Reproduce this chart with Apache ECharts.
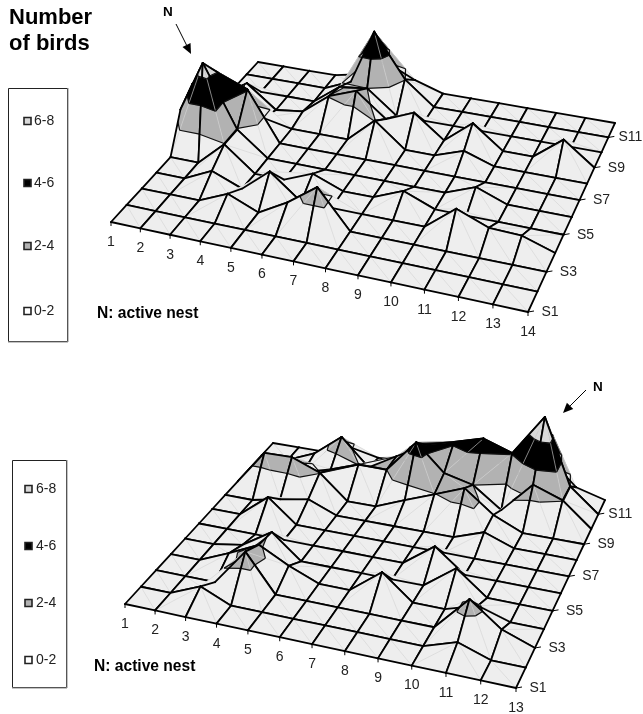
<!DOCTYPE html>
<html><head><meta charset="utf-8"><style>html,body{margin:0;padding:0;background:#fff}#c{width:643px;height:714px}</style>
<script src="https://cdn.jsdelivr.net/npm/echarts@6/dist/echarts.min.js"></script></head>
<body><div id="c"></div>
<script>
// ---- data: number of birds per cell, one list per transect S1..S12 ----
const colsTop=['1','2','3','4','5','6','7','8','9','10','11','12','13','14'];
const colsBottom=['1','2','3','4','5','6','7','8','9','10','11','12','13'];
const rowLabels=['S1','','S3','','S5','','S7','','S9','','S11',''];
const bands=['0-2','2-4','4-6','6-8'];
const topS1 =[0,0,0,0,0,0,0,0,0,0,0,0,0,0];
const topS2 =[0,0,0,0,0,0,0,0,0,0,0,0,0,0];
const topS3 =[0,0,0,1.0,0,1.3,3.0,0,0,0,0,0,0,0];
const topS4 =[0,0,1.05,0.1,1.95,0,0,0,0,0,1.95,0.95,0.85,0];
const topS5 =[0,0,1.95,0,0,0.95,0,0,1.0,0,0,0,0,0];
const topS6 =[2.7,7.0,1.93,0,0,0,0,0,0,0,0.96,0,0,0];
const topS7 =[3.7,5.05,4.1,0,0,0,0,0,0,0,0,0,0,0];
const topS8 =[1.5,2.5,0.5,0,0,0,2.05,0,0,0.85,0,0,0,0];
const topS9 =[0,1.9,0,0.3,2.05,2.95,0.95,1.95,0,1.95,0,0,1.95,0];
const topS10=[0,0,0,0,1.7,2.0,0,0,0,0,0,0,0,0];
const topS11=[0,0,0,0,1.0,5.9,2.05,0,0,0,0,0,0,0];
const topS12=[0,0,0,0,0.5,2.0,0.8,0,0,0,0,0,0,0];
const botS1 =[0,0,0,0,0,0,0,0,0,0,0,0,0];
const botS2 =[0,0,1.0,0,0,0,0,0,0,0,0.85,0,0];
const botS3 =[0,0,0,2.9,0,0,0,0,0,0,2.75,0.9,0];
const botS4 =[0,0,1.0,2.15,0.95,0,0,1.93,0,0,0.8,0,0];
const botS5 =[0,0,0.4,1.9,0,0,0,0,0,1.9,0,0,0];
const botS6 =[0,0,0,0,0,0,0,0,1.85,0,0,0,0];
const botS7 =[0,0,1.88,0,0,0,0,0,0,0,0,0,0];
const botS8 =[0,0,0.5,0.94,0,0,0,0,0,0.9,0,0,0];
const botS9 =[0,2.9,2.95,2.03,0,0,1.0,1.95,2.95,1.1,0,0,0];
const botS10=[0,0,0.5,1.15,2.03,2.0,4.85,2.6,2.0,0.25,2.95,2.05,0];
const botS11=[0,0,1.0,2.9,0.6,2.03,3.5,4.2,4.95,4.1,7.8,2.03,0];
const botS12=[0,0,0,0.8,0.3,0.5,1.0,1.5,2.0,1.0,3.0,0.7,0];
const topGrid=[topS1,topS2,topS3,topS4,topS5,topS6,topS7,topS8,topS9,topS10,topS11,topS12];
const botGrid=[botS1,botS2,botS3,botS4,botS5,botS6,botS7,botS8,botS9,botS10,botS11,botS12];

// ---- view (oblique perspective) of each surface, in page units ----
const viewTop={corners:[[111,222],[528,312],[615,123],[258,62]],lean:[-1.4,0.2],cols:colsTop,grid:topGrid};
const viewBot={corners:[[125,604],[516,688],[605,500],[273,443]],lean:[-0.2,1.0],cols:colsBottom,grid:botGrid};
const BAND_FILL=['#eeeeee','#b2b2b2','#000000','#d9d9d9'];
const LEVELS=[2,4,6];
const FONT='14px "Liberation Sans"';

function homography(c){ // unit square -> quad
  const [[x0,y0],[x1,y1],[x2,y2],[x3,y3]]=c;
  const dx1=x1-x2,dx2=x3-x2,sx=x0-x1+x2-x3,dy1=y1-y2,dy2=y3-y2,sy=y0-y1+y2-y3;
  const det=dx1*dy2-dx2*dy1;
  const g=(sx*dy2-dx2*sy)/det,h=(dx1*sy-sx*dy1)/det;
  const a=x1-x0+g*x1,b=x3-x0+h*x3,d=y1-y0+g*y1,e=y3-y0+h*y3;
  return (u,v)=>{const w=g*u+h*v+1;return [(a*u+b*v+x0)/w,(d*u+e*v+y0)/w];};
}
function makeProject(view){
  const H=homography(view.corners),nc=view.cols.length,nr=view.grid.length;
  return (i,j,z)=>{
    const f=i/(nc-1),p=H(f,j/(nr-1));
    const unit=12.67*(1-0.015*(j-2));
    return [p[0]+z*(view.lean[0]+(view.lean[1]-view.lean[0])*f),p[1]-z*unit];
  };
}
// slice a triangle into height bands
function clipBand(tri,lo,hi){
  let poly=tri;
  const cut=(pts,lev,keepAbove)=>{
    const out=[];
    for(let k=0;k<pts.length;k++){
      const a=pts[k],b=pts[(k+1)%pts.length];
      const ina=keepAbove?a[2]>=lev:a[2]<=lev,inb=keepAbove?b[2]>=lev:b[2]<=lev;
      if(ina)out.push(a);
      if(ina!==inb){const t=(lev-a[2])/(b[2]-a[2]);out.push([a[0]+t*(b[0]-a[0]),a[1]+t*(b[1]-a[1]),lev]);}
    }
    return out;
  };
  poly=cut(poly,lo,true); if(poly.length) poly=cut(poly,hi,false);
  return poly;
}
function contourSeg(tri,lev){
  const pts=[];
  for(let k=0;k<3;k++){
    const a=tri[k],b=tri[(k+1)%3];
    if((a[2]<lev)!==(b[2]<lev)){const t=(lev-a[2])/(b[2]-a[2]);pts.push([a[0]+t*(b[0]-a[0]),a[1]+t*(b[1]-a[1])]);}
  }
  return pts.length===2?pts:null;
}
function surfaceSeries(view){
  const project=makeProject(view),nc=view.cols.length,nr=view.grid.length,cells=[];
  for(let j=nr-2;j>=0;j--)for(let i=0;i<nc-1;i++)cells.push([i,j]);
  return {type:'custom',coordinateSystem:'cartesian2d',progressive:0,animation:false,silent:true,clip:false,
    encode:{x:0,y:1},data:cells,
    renderItem(params,api){
      const i=api.value(0),j=api.value(1),G=view.grid;
      const P=(a,b)=>{const p=project(a,b,G[b][a]);const c=api.coord(p);return [c[0],c[1],G[b][a]];};
      const A=P(i,j),B=P(i+1,j),C=P(i+1,j+1),D=P(i,j+1);
      const children=[];
      const pl=(a,b,s)=>children.push({type:'line',shape:{x1:a[0],y1:a[1],x2:b[0],y2:b[1]},style:s});
      // the diagonal runs between the pair of corners with the larger sum
      const flip=A[2]+C[2]>B[2]+D[2];
      const tris=flip?[[A,B,C],[A,C,D]]:[[A,B,D],[B,C,D]];
      tris.forEach(tri=>{
        [-1,2,4,6].forEach((lo,k)=>{
          const hi=k===3?99:LEVELS[k];
          const poly=clipBand(tri,lo,hi);
          if(poly.length>2)children.push({type:'polygon',shape:{points:poly.map(p=>[p[0],p[1]])},
            style:{fill:BAND_FILL[k],stroke:BAND_FILL[k],lineWidth:0.4}});
        });
      });
      if(flip)pl(A,C,{stroke:'#d2d2d2',lineWidth:0.6});else pl(B,D,{stroke:'#d2d2d2',lineWidth:0.6});
      tris.forEach(tri=>LEVELS.forEach(l=>{
        const s=contourSeg(tri,l);
        if(s)pl(s[0],s[1],{stroke:'#111',lineWidth:1.2});
      }));
      const bold={stroke:'#000',lineWidth:1.8,lineCap:'round'};
      pl(D,C,bold);pl(A,D,bold);pl(B,C,bold);pl(A,B,bold);
      return {type:'group',children};
    }};
}
function axisSeries(view){
  const project=makeProject(view),items=[];
  view.cols.forEach((t,i)=>items.push([i,0,t,'c']));
  rowLabels.forEach((t,j)=>{if(t)items.push([view.cols.length-1,j,t,'r']);});
  return {type:'custom',coordinateSystem:'cartesian2d',animation:false,silent:true,clip:false,
    encode:{x:0,y:1},data:items,
    renderItem(params,api){
      const it=items[params.dataIndex];
      const c=api.coord(project(it[0],it[1],0));
      const isCol=it[3]==='c';
      return {type:'group',children:[
        {type:'line',shape:isCol?{x1:c[0],y1:c[1],x2:c[0],y2:c[1]+4}:{x1:c[0],y1:c[1],x2:c[0]+6,y2:c[1]-1},style:{stroke:'#000',lineWidth:1}},
        {type:'text',style:{text:it[2],x:isCol?c[0]:c[0]+22,y:isCol?c[1]+20:c[1],align:'center',verticalAlign:'middle',
          font:FONT,fill:'#222'}}
      ]};
    }};
}
function legendG(x0,y0,x1,y1,ys,sx,tx){
  const out=[{type:'rect',shape:{x:x0+0.5,y:y0+0.5,width:x1-x0,height:y1-y0},style:{fill:'#fff',stroke:'#222',lineWidth:1}},
    {type:'line',shape:{x1:x1+1,y1:y0,x2:x1+1,y2:y1+1},style:{stroke:'#888',lineWidth:1}},
    {type:'line',shape:{x1:x0,y1:y1+1,x2:x1+1,y2:y1+1},style:{stroke:'#888',lineWidth:1}}];
  [3,2,1,0].forEach((b,k)=>{
    out.push({type:'rect',shape:{x:sx+1,y:ys[k]-3.5,width:7,height:7},style:{fill:b===0?'#fff':BAND_FILL[b],stroke:'#222',lineWidth:1.6}});
    out.push({type:'text',style:{text:bands[b],x:tx,y:ys[k],verticalAlign:'middle',font:FONT,fill:'#222'}});
  });
  return out;
}
function arrow(x0,y0,x1,y1){
  const a=Math.atan2(y1-y0,x1-x0),L=10,W=4.5;
  const bx=x1-L*Math.cos(a),by=y1-L*Math.sin(a);
  return [{type:'line',shape:{x1:x0,y1:y0,x2:bx,y2:by},style:{stroke:'#000',lineWidth:1}},
    {type:'polygon',shape:{points:[[x1,y1],[bx-W*Math.sin(a),by+W*Math.cos(a)],[bx+W*Math.sin(a),by-W*Math.cos(a)]]},style:{fill:'#000'}}];
}
const bt=(text,x,y,size)=>({type:'text',style:{text,x,y,verticalAlign:'middle',font:'bold '+size+'px "Liberation Sans"',fill:'#000'}});
const chart=echarts.init(document.getElementById('c'),null,{renderer:'canvas'});
chart.setOption({animation:false,backgroundColor:'#fff',
  grid:{left:0,right:0,top:0,bottom:0},
  xAxis:{type:'value',min:0,max:643,show:false},
  yAxis:{type:'value',min:0,max:714,inverse:true,show:false},
  series:[surfaceSeries(viewTop),axisSeries(viewTop),surfaceSeries(viewBot),axisSeries(viewBot)],
  graphic:{elements:[
    bt('Number',9,18,22),bt('of birds',9,44,22),
    ...legendG(8,88,67,341,[121,183,246,311],23,34),
    ...legendG(12,460,66,687,[489,546,603,660],24,36),
    bt('N: active nest',97,314,15.6),bt('N: active nest',94,667,15.6),
    bt('N',163,12,13.5),bt('N',593,387,13.5),bt('N',490,560,13.5),
    ...arrow(176,24,191,54),...arrow(586,390,563,413),...arrow(496,567,484,595)
  ]}
});
</script></body></html>
